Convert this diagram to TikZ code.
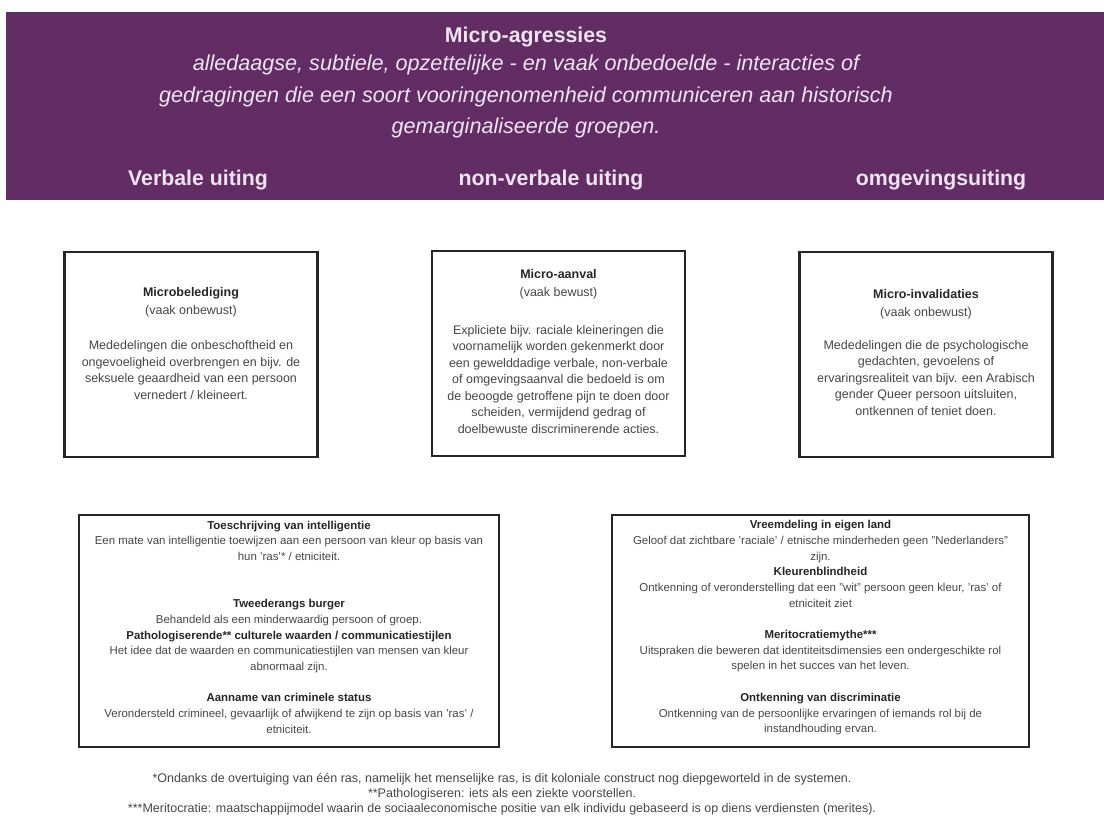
\documentclass[tikz,border=0pt]{standalone}
\usepackage{fontspec}
\setmainfont{Liberation Sans}
\usetikzlibrary{positioning}

\definecolor{aubergine}{RGB}{98,44,100}
\definecolor{lilac}{RGB}{238,228,242}
\definecolor{bodygray}{RGB}{70,70,70}
\newcommand{\kop}[1]{{\color{black!85}\bfseries #1}}

\begin{document}
\begin{tikzpicture}[
    x=1pt, y=-1pt,
    band/.style={fill=aubergine, minimum width=1098pt, minimum height=188pt, inner sep=0pt},
    headtitle/.style={text=lilac, inner sep=0pt, font=\fontsize{21.3}{31.5}\selectfont\bfseries},
    headtext/.style={text=lilac, inner sep=0pt, align=center, font=\fontsize{21.6}{31.5}\selectfont\itshape},
    column/.style={text=lilac, inner sep=0pt, font=\fontsize{21.3}{24}\selectfont\bfseries},
    card/.style={draw=black!85, line width=2.7pt, minimum width=253pt, minimum height=205pt},
    widecard/.style={card, minimum width=420pt, minimum height=232pt},
    cardtext/.style={align=center, inner sep=0pt, text=bodygray, font=\fontsize{12.5}{16.5}\selectfont},
    listtext/.style={align=center, inner sep=0pt, text=bodygray, font=\fontsize{11.45}{15.7}\selectfont},
    note/.style={align=center, inner sep=0pt, text=bodygray, font=\fontsize{12.5}{15}\selectfont}
]
\useasboundingbox (0,0) rectangle (1104,821);

% Header band
\node[band] (band) at (555,106) {};
\node[headtitle] (title) at (526,37) {Micro-agressies};
\node[headtext] (definition) at (526,96.5) {alledaagse, subtiele, opzettelijke - en vaak onbedoelde - interacties of\\
    gedragingen die een soort vooringenomenheid communiceren aan historisch\\
    gemarginaliseerde groepen.};
\node[column] (verbal) at (198,180) {Verbale uiting};
\node[column] (nonverbal) at (551,180) {non-verbale uiting};
\node[column] (environment) at (941,180) {omgevingsuiting};

% Top cards
\node[card] (insult) at (191,354.5) {};
\node[card] (assault) at (558.5,353.5) {};
\node[card] (invalid) at (926,354.5) {};

\node[cardtext, below=36.3pt of insult.north] (insulttext) {\kop{Microbelediging}\\[2pt]
    (vaak onbewust)\\[18.5pt]
    Mededelingen die onbeschoftheid en\\
    ongevoeligheid overbrengen en bijv. de\\
    seksuele geaardheid van een persoon\\
    vernedert / kleineert.};
\node[cardtext, below=19.4pt of assault.north] (assaulttext) {\kop{Micro-aanval}\\[2pt]
    (vaak bewust)\\[21pt]
    Expliciete bijv. raciale kleineringen die\\
    voornamelijk worden gekenmerkt door\\
    een gewelddadige verbale, non-verbale\\
    of omgevingsaanval die bedoeld is om\\
    de beoogde getroffene pijn te doen door\\
    scheiden, vermijdend gedrag of\\
    doelbewuste discriminerende acties.};
\node[cardtext, below=38.3pt of invalid.north] (invalidtext) {\kop{Micro-invalidaties}\\[2pt]
    (vaak onbewust)\\[16pt]
    Mededelingen die de psychologische\\
    gedachten, gevoelens of\\
    ervaringsrealiteit van bijv. een Arabisch\\
    gender Queer persoon uitsluiten,\\
    ontkennen of teniet doen.};

% Bottom cards
\node[widecard] (themesleft) at (289,631) {};
\node[widecard, minimum width=417pt] (themesright) at (820.5,631) {};

\node[listtext, below=7pt of themesleft.north] (leftlist) {\kop{Toeschrijving van intelligentie}\\
    Een mate van intelligentie toewijzen aan een persoon van kleur op basis van\\
    hun 'ras'* / etniciteit.\\[31.4pt]
    \kop{Tweederangs burger}\\
    Behandeld als een minderwaardig persoon of groep.\\
    \kop{Pathologiserende** culturele waarden / communicatiestijlen}\\
    Het idee dat de waarden en communicatiestijlen van mensen van kleur\\
    abnormaal zijn.\\[15.7pt]
    \kop{Aanname van criminele status}\\
    Verondersteld crimineel, gevaarlijk of afwijkend te zijn op basis van 'ras' /\\
    etniciteit.};
\node[listtext, below=6.5pt of themesright.north] (rightlist) {\kop{Vreemdeling in eigen land}\\
    Geloof dat zichtbare 'raciale' / etnische minderheden geen "Nederlanders"\\
    zijn.\\
    \kop{Kleurenblindheid}\\
    Ontkenning of veronderstelling dat een "wit" persoon geen kleur, 'ras' of\\
    etniciteit ziet\\[15.7pt]
    \kop{Meritocratiemythe***}\\
    Uitspraken die beweren dat identiteitsdimensies een ondergeschikte rol\\
    spelen in het succes van het leven.\\[15.7pt]
    \kop{Ontkenning van discriminatie}\\
    Ontkenning van de persoonlijke ervaringen of iemands rol bij de\\
    instandhouding ervan.};

% Footnotes
\node[note] (footnotes) at (502,794) {*Ondanks de overtuiging van één ras, namelijk het menselijke ras, is dit koloniale construct nog diepgeworteld in de systemen.\\
    **Pathologiseren: iets als een ziekte voorstellen.\\
    ***Meritocratie: maatschappijmodel waarin de sociaaleconomische positie van elk individu gebaseerd is op diens verdiensten (merites).};

\end{tikzpicture}
\end{document}
